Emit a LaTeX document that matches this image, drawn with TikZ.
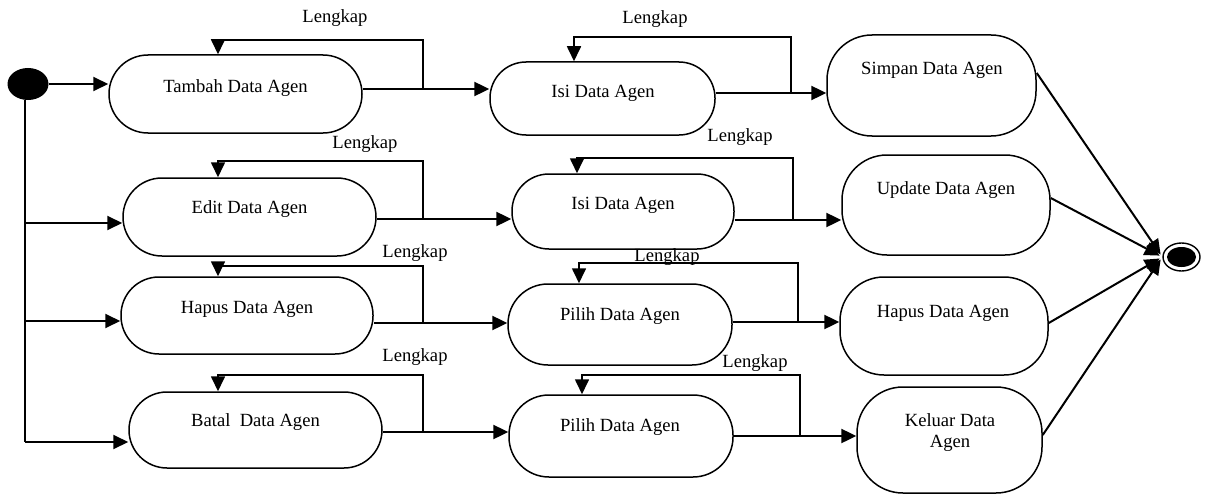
\documentclass[tikz,border=0pt]{standalone}
\usepackage{fontspec}
\setmainfont{Liberation Serif}
\usetikzlibrary{arrows.meta,shapes.geometric}
\begin{document}
\begin{tikzpicture}[x=1pt,y=-1pt,
  stbox/.style={draw, line width=1.5pt, rectangle, inner sep=0pt},
  txt/.style={inner sep=0pt, font=\fontsize{18.6}{21}\selectfont, align=center},
  lbl/.style={inner sep=0pt, font=\fontsize{18.6}{21}\selectfont},
  flow/.style={line width=2pt, -{Triangle[length=15pt,width=14pt]}},
  loopl/.style={line width=1.7pt, -{Triangle[length=15pt,width=14pt]}},
  exitl/.style={line width=2.4pt, -{Triangle[length=15pt,width=14pt]}},
  plain/.style={line width=2pt}]
\useasboundingbox (0,0) rectangle (1207,495);

% start / end
\node[fill, ellipse, minimum width=41pt, minimum height=32pt, inner sep=0pt] (start) at (28,84) {};
\node[draw, ellipse, line width=1.4pt, minimum width=37pt, minimum height=28pt, inner sep=0pt] (end) at (1181.5,257) {};
\node[fill, ellipse, minimum width=29pt, minimum height=20pt, inner sep=0pt] (endin) at (1181.5,257) {};

% column 1 boxes
\node[stbox, minimum width=253pt, minimum height=78pt, rounded corners=39pt] (tambah) at (235.5,94) {};
\node[txt] (ttambah) at (235.5,88) {Tambah Data Agen};
\node[stbox, minimum width=253pt, minimum height=78pt, rounded corners=39pt] (edit) at (249.5,217) {};
\node[txt] (tedit) at (249.5,209) {Edit Data Agen};
\node[stbox, minimum width=252pt, minimum height=77pt, rounded corners=38pt] (hapus) at (247,315.5) {};
\node[txt] (thapus) at (247,309) {Hapus Data Agen};
\node[stbox, minimum width=253pt, minimum height=76pt, rounded corners=38pt] (batal) at (255.5,430) {};
\node[txt] (tbatal) at (255.5,422) {Batal\ \ Data Agen};

% column 2 boxes
\node[stbox, minimum width=225pt, minimum height=73pt, rounded corners=36pt] (isi1) at (602.5,98.5) {};
\node[txt] (tisi1) at (603,93) {Isi Data Agen};
\node[stbox, minimum width=222pt, minimum height=75pt, rounded corners=37pt] (isi2) at (623,211.5) {};
\node[txt] (tisi2) at (623,205) {Isi Data Agen};
\node[stbox, minimum width=224pt, minimum height=81pt, rounded corners=40pt] (pilih1) at (620,324.5) {};
\node[txt] (tpilih1) at (620,316) {Pilih Data Agen};
\node[stbox, minimum width=224pt, minimum height=82pt, rounded corners=40pt] (pilih2) at (621,436) {};
\node[txt] (tpilih2) at (620,427) {Pilih Data Agen};

% column 3 boxes
\node[stbox, minimum width=209pt, minimum height=101pt, rounded corners=45pt] (simpan) at (931.5,85.5) {};
\node[txt] (tsimpan) at (932,70) {Simpan Data Agen};
\node[stbox, minimum width=208pt, minimum height=100pt, rounded corners=45pt] (update) at (946,205) {};
\node[txt] (tupdate) at (946,190) {Update Data Agen};
\node[stbox, minimum width=208pt, minimum height=98pt, rounded corners=44pt] (hapus2) at (944,326) {};
\node[txt] (thapus2) at (943,313) {Hapus Data Agen};
\node[stbox, minimum width=185pt, minimum height=106pt, rounded corners=46pt] (keluar) at (949.5,440) {};
\node[txt] (tkeluar) at (950,433) {Keluar Data\\Agen};

% labels
\node[lbl] (lk1) at (335,18) {Lengkap};
\node[lbl] (lk2) at (655,19) {Lengkap};
\node[lbl] (lk3) at (365,144) {Lengkap};
\node[lbl] (lk4) at (740,137) {Lengkap};
\node[lbl] (lk5) at (415,253) {Lengkap};
\node[lbl] (lk6) at (667,257) {Lengkap};
\node[lbl] (lk7) at (415,357) {Lengkap};
\node[lbl] (lk8) at (755,363) {Lengkap};

% helper coordinates
\coordinate (v2) at (25,223);
\coordinate (v3) at (25,321);
\coordinate (v4) at (25,442);
\coordinate (a1) at (423,89);   \coordinate (t1) at (218,40);
\coordinate (a2) at (791,93);   \coordinate (t2) at (574,37);
\coordinate (a3) at (423,219);  \coordinate (t3) at (218,161);
\coordinate (a4) at (793,220);  \coordinate (t4) at (577,158);
\coordinate (a5) at (423,323);  \coordinate (t5) at (218,266);
\coordinate (a6) at (798,322);  \coordinate (t6) at (579,263);
\coordinate (a7) at (423,432);  \coordinate (t7) at (218,375);
\coordinate (a8) at (800,436);  \coordinate (t8) at (582,375);

% start branches
\draw[flow] (start.east) -- (start.east -| tambah.west);
\draw[plain] (start.south -| v4) -- (v4);
\draw[flow] (v2) -- (v2 -| edit.west);
\draw[flow] (v3) -- (v3 -| hapus.west);
\draw[flow] (v4) -- (v4 -| batal.west);

% exits column 1 -> column 2
\draw[exitl] (tambah.east |- a1) -- (isi1.west |- a1);
\draw[exitl] (edit.east |- a3) -- (isi2.west |- a3);
\draw[exitl] (hapus.east |- a5) -- (pilih1.west |- a5);
\draw[exitl] (batal.east |- a7) -- (pilih2.west |- a7);

% exits column 2 -> column 3
\draw[exitl] (isi1.east |- a2) -- (simpan.west |- a2);
\draw[exitl] (isi2.east |- a4) -- (update.west |- a4);
\draw[exitl] (pilih1.east |- a6) -- (hapus2.west |- a6);
\draw[exitl] (pilih2.east |- a8) -- (keluar.west |- a8);

% self loops
\draw[loopl] (a1) |- (t1) -- (t1 |- tambah.north);
\draw[loopl] (a2) |- (t2) -- (t2 |- isi1.north);
\draw[loopl] (a3) |- (t3) -- (t3 |- edit.north);
\draw[loopl] (a4) |- (t4) -- (t4 |- isi2.north);
\draw[loopl] (a5) |- (t5) -- (t5 |- hapus.north);
\draw[loopl] (a6) |- (t6) -- (t6 |- pilih1.north);
\draw[loopl] (a7) |- (t7) -- (t7 |- batal.north);
\draw[loopl] (a8) |- (t8) -- (t8 |- pilih2.north);

% to end
\draw[flow, shorten >=3pt] ([yshift=12.5pt]simpan.east) -- (end.west);
\draw[flow, shorten >=3pt] ([yshift=7pt]update.east) -- (end.west);
\draw[flow, shorten >=3pt] ([yshift=3pt]hapus2.east) -- (end.west);
\draw[flow, shorten >=3pt] ([yshift=5pt]keluar.east) -- (end.west);
\end{tikzpicture}
\end{document}
